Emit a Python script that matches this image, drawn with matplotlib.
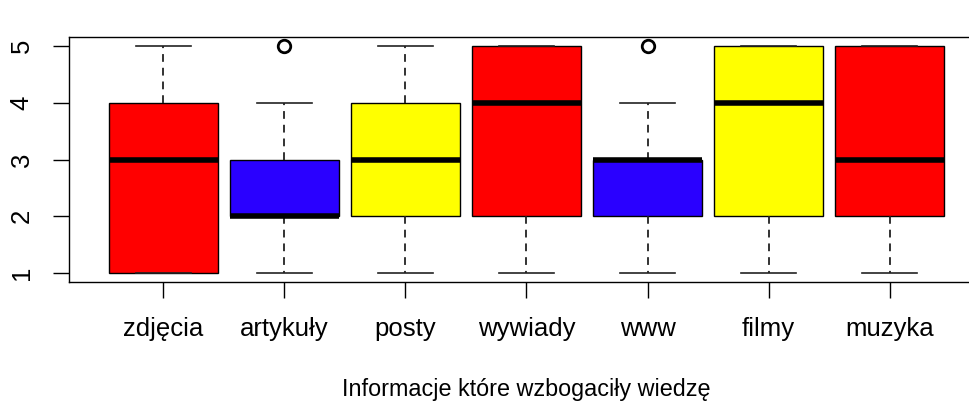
import matplotlib
matplotlib.use("Agg")
import matplotlib.pyplot as plt

# summary stats (R-style boxplot)
categories = ["zdjęcia", "artykuły", "posty", "wywiady", "www", "filmy", "muzyka"]
whislo = [1, 1, 1, 1, 1, 1, 1]
q1 = [1, 2, 2, 2, 2, 2, 2]
med = [3, 2, 3, 4, 3, 4, 3]
q3 = [4, 3, 4, 5, 3, 5, 5]
whishi = [5, 4, 5, 5, 4, 5, 5]
fliers = [[], [5], [], [], [5], [], []]
colors = ["#FF0000", "#2A00FF", "#FFFF00", "#FF0000", "#2A00FF", "#FFFF00", "#FF0000"]

plt.rcParams["font.family"] = ["Liberation Sans", "DejaVu Sans"]

fig = plt.figure(figsize=(9.7, 4.08), dpi=100)
# right spine sits outside the canvas in the original
ax = fig.add_axes([69 / 970, 1 - 282 / 408, 915 / 970, 245 / 408])

stats = []
for i in range(len(categories)):
    stats.append(dict(label=categories[i], whislo=whislo[i], q1=q1[i], med=med[i],
                      q3=q3[i], whishi=whishi[i], fliers=fliers[i]))

bp = ax.bxp(stats, positions=range(1, 8), widths=0.9, patch_artist=True,
            boxprops=dict(edgecolor="black", linewidth=1.0),
            medianprops=dict(color="black", linewidth=4, solid_capstyle="butt"),
            whiskerprops=dict(color="#222222", linewidth=1.3, linestyle=(0, (4.3, 3.3))),
            capprops=dict(color="#222222", linewidth=1.2),
            flierprops=dict(marker="o", markersize=9, markerfacecolor="none",
                            markeredgecolor="black", markeredgewidth=2))
for patch, c in zip(bp["boxes"], colors):
    patch.set_facecolor(c)
for cap in bp["caps"]:
    x = cap.get_xdata()
    mid = (x[0] + x[1]) / 2
    cap.set_xdata([mid - 0.225, mid + 0.225])

ax.set_xlim(0.22, 7.78)
ax.set_ylim(0.84, 5.16)
ax.set_yticks([1, 2, 3, 4, 5])
ax.set_yticklabels(["1", "2", "3", "4", "5"], rotation=90, va="center")
ax.set_xticks(range(1, 8))
ax.set_xticklabels(categories)
ax.tick_params(axis="both", direction="out", length=11.5, width=1.0, labelsize=18.5)
ax.tick_params(axis="y", pad=14)
ax.tick_params(axis="x", pad=13.5)
for s in ax.spines.values():
    s.set_linewidth(1.0)

ax.set_xlabel("Informacje które wzbogaciły wiedzę", fontsize=16.8, labelpad=27)

fig.savefig("out.png", dpi=100)
